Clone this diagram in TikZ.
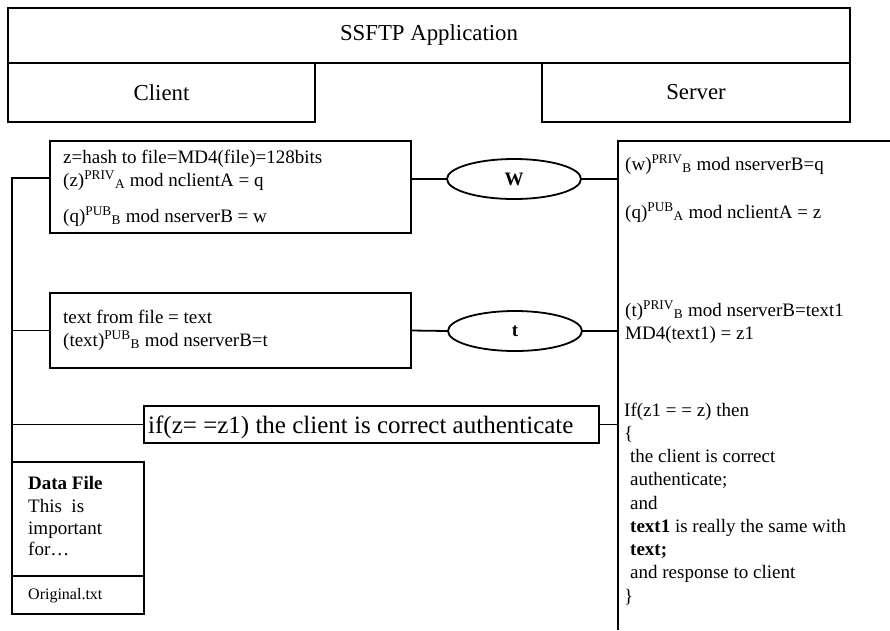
\documentclass[tikz,border=0pt]{standalone}
\usepackage{fontspec}
\setmainfont{Liberation Serif}
\usetikzlibrary{shapes.geometric, positioning}

% exponent with key owner, e.g. (z)^PRIV_A
\newcommand{\keyexp}[2]{\textsuperscript{#1}\textsubscript{#2}}

\tikzset{
  frame/.style={draw, line width=1.8pt, rectangle, inner sep=0pt, outer sep=0pt},
  wire/.style={line width=1.8pt},
  panel/.style={line width=1.2pt},
  msg/.style={draw, line width=1.8pt, ellipse, minimum width=134pt, minimum height=40pt,
    inner sep=0pt, outer sep=0pt, font=\fontsize{19}{21}\selectfont\bfseries},
  body/.style={anchor=base west, inner sep=0pt, font=\fontsize{19}{23}\selectfont},
  big/.style={font=\fontsize{22.8}{26}\selectfont},
}

\begin{document}
\begin{tikzpicture}[x=1pt, y=-1pt]
\useasboundingbox (0,0) rectangle (890,630);

% Application header with client and server parts
\node[frame, big, minimum width=842, minimum height=55, anchor=north west] (app) at (8,8) {SSFTP Application};
\node[frame, big, minimum width=307, minimum height=59, anchor=north west] (client) at (app.south west) {Client};
\node[frame, big, minimum width=308, minimum height=59, anchor=north east] (server) at (app.south east) {Server};

% Client side boxes
\node[frame, minimum width=361, minimum height=92, anchor=north west] (hashbox) at (50,141) {};
\node[frame, minimum width=361, minimum height=75, anchor=north west] (textbox) at (50,293) {};
\node[frame, minimum width=455, minimum height=37, anchor=north west] (checkbox) at (144,406) {};
\node[frame, minimum width=132, minimum height=114, anchor=north west] (datafile) at (12,462) {};
\node[frame, minimum width=132, minimum height=38, anchor=north west] (filename) at (datafile.south west) {};

\foreach \y/\txt [count=\i] in {163/{z=hash to file=MD4(file)=128bits},
    186/{(z)\keyexp{PRIV}{A} mod nclientA = q},
    222/{(q)\keyexp{PUB}{B} mod nserverB = w}}
  \node[body] (hash\i) at (63,\y) {\txt};

\foreach \y/\txt [count=\i] in {323/{text from file = text},
    346/{(text)\keyexp{PUB}{B} mod nserverB=t}}
  \node[body] (text\i) at (63,\y) {\txt};

\node[body, font=\fontsize{25}{28}\selectfont] (checktext) at (148,433) {if(z= =z1) the client is correct authenticate};

\foreach \y/\txt [count=\i] in {489/{\textbf{Data File}}, 512/{This\ \ is}, 534/{important}, 555/{for…}}
  \node[body] (data\i) at (28,\y) {\txt};
\node[body, font=\fontsize{16}{18}\selectfont] (fname) at (28,599) {Original.txt};

% Messages
\node[msg] (w) at (514,179) {W};
\node[msg] (t) at (515,331) {t};

% Server panel
\coordinate (srvtop) at (618,141);
\coordinate (srvbottom) at (618,630);
\coordinate (srvright) at (890,141);
\draw[panel] (srvbottom) -- (srvtop) -- (srvright);

\foreach \y/\txt [count=\i] in {170/{(w)\keyexp{PRIV}{B} mod nserverB=q},
    218/{(q)\keyexp{PUB}{A} mod nclientA = z},
    316/{(t)\keyexp{PRIV}{B} mod nserverB=text1},
    339/{MD4(text1) = z1}}
  \node[body] (srv\i) at (625,\y) {\txt};

\foreach \x/\txt [count=\i] in {624/{If(z1 = = z) then}, 624/{\{},
    630/{the client is correct}, 630/{authenticate;}, 630/{and},
    630/{\textbf{text1} is really the same with}, 630/{\textbf{text;}},
    630/{and response to client}, 624/{\}}}
  \node[body] (check\i) at (\x,{416+23.25*(\i-1)}) {\txt};

% Connectors
\coordinate (trunk) at (12,178);
\draw[wire] (datafile.north west) -- (trunk) -- (trunk -| hashbox.west);
\draw[wire] (textbox.west -| trunk) -- (textbox.west);
\draw[wire] (checkbox.west -| trunk) -- (checkbox.west);
\draw[wire] (w.west -| hashbox.east) -- (w.west);
\draw[wire] (w.east) -- (w.east -| srvtop);
\draw[wire] (textbox.east) -- (t.west);
\draw[wire] (t.east) -- (t.east -| srvtop);
\draw[wire] (checkbox.east) -- (checkbox.east -| srvtop);
\end{tikzpicture}
\end{document}
